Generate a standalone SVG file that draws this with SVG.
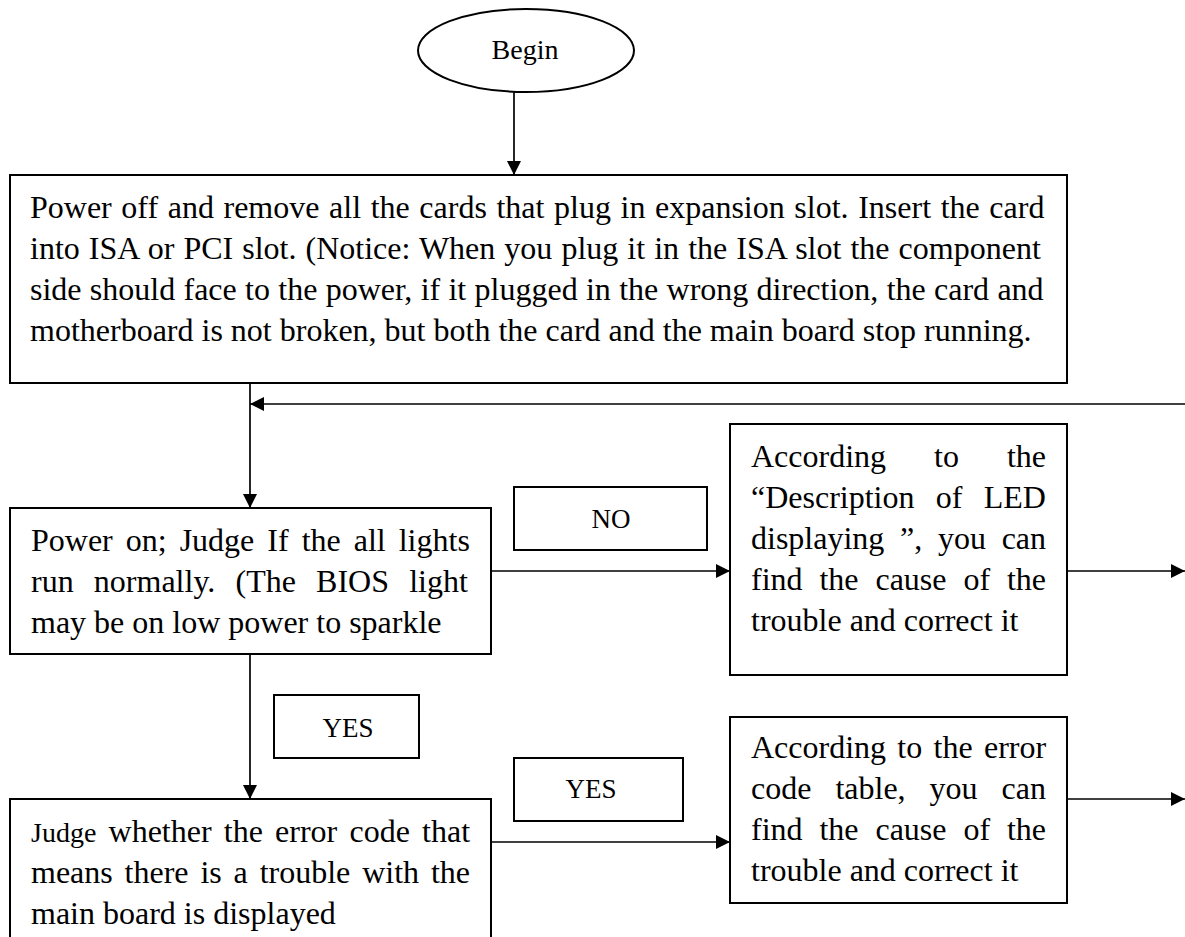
<svg xmlns="http://www.w3.org/2000/svg" width="1185" height="937" viewBox="0 0 1185 937">
  <defs>
    <marker id="arr" viewBox="0 0 14 14" refX="14" refY="7" markerWidth="14" markerHeight="14" markerUnits="userSpaceOnUse" orient="auto">
      <path d="M0,0 L14,7 L0,14 Z" fill="#000"/>
    </marker>
    <style>
      .box { fill: #fff; stroke: #000; stroke-width: 2; }
      .lbl { fill: #fff; stroke: #000; stroke-width: 2; }
      .t { font-family: "Liberation Serif", "Times New Roman", serif; font-size: 32px; fill: #000; }
      .s { font-family: "Liberation Serif", "Times New Roman", serif; font-size: 27px; fill: #000; text-anchor: middle; }
      .conn line { stroke: #000; stroke-width: 1.7; fill: none; marker-end: url(#arr); }
    </style>
  </defs>
  <rect width="1185" height="937" fill="#fff"/>

  <g id="begin">
    <ellipse cx="526" cy="50.5" rx="108" ry="41.5" fill="#fff" stroke="#000" stroke-width="2"/>
    <text x="525" y="59" class="t" style="font-size:28px" text-anchor="middle">Begin</text>
  </g>

  <g id="step1">
    <rect class="box" x="10" y="175" width="1057" height="208"/>
    <text class="t" x="30" y="218" word-spacing="1.6">Power off and remove all the cards that plug in expansion slot. Insert the card</text>
    <text class="t" x="30" y="259" word-spacing="1.06">into ISA or PCI slot. (Notice: When you plug it in the ISA slot the component</text>
    <text class="t" x="30" y="300" word-spacing="0.3">side should face to the power, if it plugged in the wrong direction, the card and</text>
    <text class="t" x="30" y="341">motherboard is not broken, but both the card and the main board stop running.</text>
  </g>

  <g id="step2">
    <rect class="box" x="10" y="508" width="481" height="146"/>
    <text class="t" x="31" y="551" word-spacing="5">Power on; Judge If the all lights</text>
    <text class="t" x="31" y="592" word-spacing="12.2">run normally. (The BIOS light</text>
    <text class="t" x="31" y="633">may be on low power to sparkle</text>
  </g>

  <g id="step3">
    <rect class="box" x="10" y="799" width="481" height="160"/>
    <text class="t" x="31" y="842" word-spacing="4.2"><tspan style="font-size:28px">Judge</tspan> whether the error code that</text>
    <text class="t" x="31" y="883" word-spacing="3.85">means there is a trouble with the</text>
    <text class="t" x="31" y="924">main board is displayed</text>
  </g>

  <g id="fix-led">
    <rect class="box" x="730" y="424" width="337" height="251"/>
    <text class="t" x="751" y="467" word-spacing="40">According to the</text>
    <text class="t" x="751" y="508" word-spacing="13.3">“Description of LED</text>
    <text class="t" x="751" y="549" word-spacing="7.7">displaying ”, you can</text>
    <text class="t" x="751" y="590" word-spacing="8.9">find the cause of the</text>
    <text class="t" x="751" y="631">trouble and correct it</text>
  </g>

  <g id="fix-code">
    <rect class="box" x="730" y="717" width="337" height="186"/>
    <text class="t" x="751" y="758" word-spacing="3.3">According to the error</text>
    <text class="t" x="751" y="799" word-spacing="16">code table, you can</text>
    <text class="t" x="751" y="840" word-spacing="8.9">find the cause of the</text>
    <text class="t" x="751" y="881">trouble and correct it</text>
  </g>

  <g id="label-no">
    <rect class="lbl" x="514" y="487" width="193" height="63"/>
    <text class="s" x="611" y="528">NO</text>
  </g>

  <g id="label-yes1">
    <rect class="lbl" x="274" y="695" width="145" height="63"/>
    <text class="s" x="348" y="737">YES</text>
  </g>

  <g id="label-yes2">
    <rect class="lbl" x="514" y="758" width="169" height="63"/>
    <text class="s" x="591" y="798">YES</text>
  </g>

  <g id="connectors" class="conn">
    <line x1="514" y1="92" x2="514" y2="175"/>
    <line x1="250" y1="383" x2="250" y2="508"/>
    <line x1="1185" y1="404" x2="250" y2="404"/>
    <line x1="491" y1="571" x2="730" y2="571"/>
    <line x1="1067" y1="571" x2="1185" y2="571"/>
    <line x1="250" y1="654" x2="250" y2="799"/>
    <line x1="491" y1="842" x2="730" y2="842"/>
    <line x1="1067" y1="799" x2="1185" y2="799"/>
  </g>
</svg>
